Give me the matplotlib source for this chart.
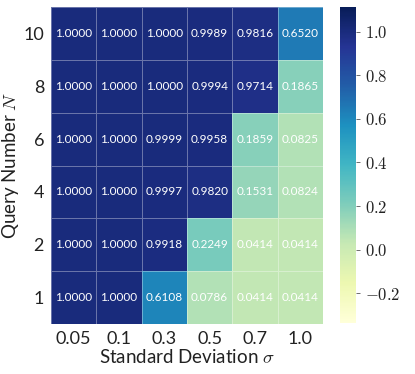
import numpy as np
import matplotlib
matplotlib.use("Agg")
import matplotlib.pyplot as plt

plt.rcParams['font.family'] = ['Lato', 'DejaVu Sans']
plt.rcParams['mathtext.fontset'] = 'cm'

sigmas = ["0.05", "0.1", "0.3", "0.5", "0.7", "1.0"]
queries = ["10", "8", "6", "4", "2", "1"]
row_10 = [1.0000, 1.0000, 1.0000, 0.9989, 0.9816, 0.6520]
row_8 = [1.0000, 1.0000, 1.0000, 0.9994, 0.9714, 0.1865]
row_6 = [1.0000, 1.0000, 0.9999, 0.9958, 0.1859, 0.0825]
row_4 = [1.0000, 1.0000, 0.9997, 0.9820, 0.1531, 0.0824]
row_2 = [1.0000, 1.0000, 0.9918, 0.2249, 0.0414, 0.0414]
row_1 = [1.0000, 1.0000, 0.6108, 0.0786, 0.0414, 0.0414]
cbar_ticks = [-0.2, 0.0, 0.2, 0.4, 0.6, 0.8, 1.0]

data = np.array([row_10, row_8, row_6, row_4, row_2, row_1])

fig = plt.figure(figsize=(4.15, 3.74), dpi=100)
W, H = 415, 374
ax = fig.add_axes([51 / W, 1 - 324 / H, 272 / W, 317 / H])
cax = fig.add_axes([340 / W, 1 - 323 / H, 16 / W, 316 / H])

mesh = ax.pcolormesh(data, cmap="YlGnBu", vmin=-0.336, vmax=1.113,
                     edgecolor=(1, 1, 1, 0.35), linewidth=0.6)
ax.set_ylim(len(queries), 0)
ax.set_xlim(0, len(sigmas))
for i in range(data.shape[0]):
    for j in range(data.shape[1]):
        ax.text(j + 0.5, i + 0.5, "%.4f" % data[i, j], ha="center", va="center",
                color="white", fontsize=8.5)

ax.set_xticks(np.arange(len(sigmas)) + 0.5)
ax.set_xticklabels(sigmas, fontsize=13, color="#222222")
ax.set_yticks(np.arange(len(queries)) + 0.5)
ax.set_yticklabels(queries, fontsize=13, color="#222222")
ax.tick_params(length=0, pad=5)
for s in ax.spines.values():
    s.set_visible(False)
ax.set_xlabel(r"Standard Deviation $\sigma$", fontsize=13.5, labelpad=1, color="#222222")
ax.set_ylabel(r"Query Number $N$", fontsize=13.5, labelpad=2, color="#222222")

cb = fig.colorbar(mesh, cax=cax)
cb.outline.set_visible(False)
cb.set_ticks(cbar_ticks)
cb.set_ticklabels([r"$%.1f$" % t for t in cbar_ticks])
cax.tick_params(labelsize=12, length=3, width=0.6, color="#555555", labelcolor="#222222")

fig.savefig("out.png", dpi=100)
